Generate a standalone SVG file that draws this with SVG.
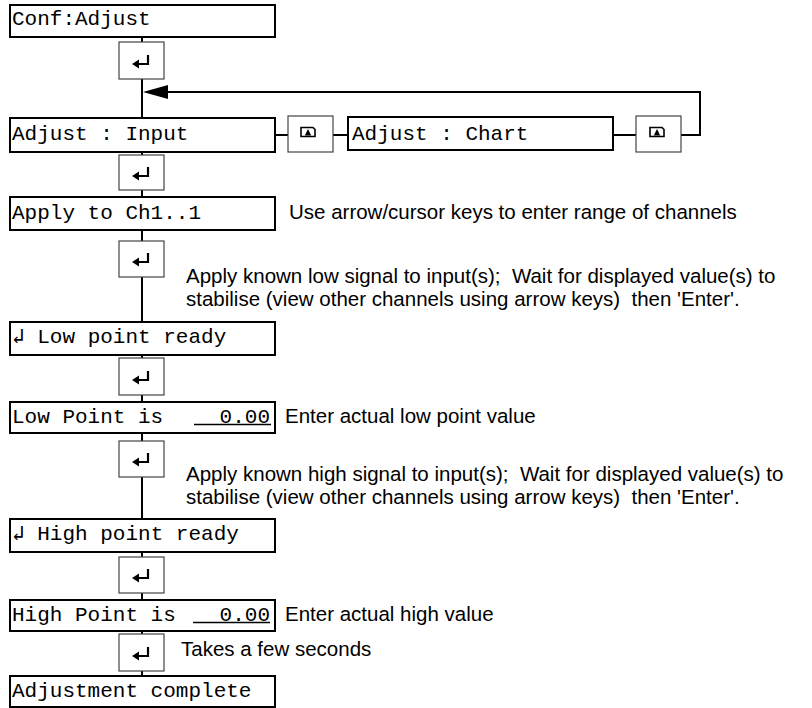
<svg xmlns="http://www.w3.org/2000/svg" width="812" height="708" viewBox="0 0 812 708">
<defs>
<style>
text{white-space:pre}
.box{fill:#fff;stroke:#000;stroke-width:2}
.key{fill:#fff;stroke:#444;stroke-width:1.2}
.mono{font-family:"Liberation Mono","DejaVu Sans Mono",monospace;font-size:21px;fill:#000}
.note{font-family:"Liberation Sans",Arial,sans-serif;font-size:20.5px;fill:#000}
.ln{stroke:#000;stroke-width:2;fill:none}
.ul{stroke:#000;stroke-width:1.3}
</style>
<g id="enterIcon">
<path d="M0,-6 V3 H-10" fill="none" stroke="#000" stroke-width="2.2"/>
<polygon points="-16,3 -9,-1.5 -9,7.5" fill="#000"/>
</g>
<g id="upIcon">
<path d="M-7,-4.5 H5 L7,-2.5 V4.5 H-7 Z" fill="#fff" stroke="#000" stroke-width="1.6"/>
<polygon points="-3.2,3.5 0,-3 3.2,3.5" fill="#000"/>
</g>
</defs>
<rect width="812" height="708" fill="#fff"/>
<g id="connectors">
<line class="ln" x1="142" y1="37" x2="142" y2="676"/>
<line class="ln" x1="275" y1="135" x2="288" y2="135"/>
<line class="ln" x1="333" y1="135" x2="348" y2="135"/>
<line class="ln" x1="613" y1="135" x2="636" y2="135"/>
<polyline class="ln" points="681,135 700,135 700,92 166,92"/>
<polygon points="143,92 168,85 168,99" fill="#000"/>
</g>
<g id="n-conf"><rect class="box" x="10" y="5" width="265" height="32"/><text class="mono" x="12" y="25">Conf:Adjust</text></g>
<g id="k-enter1"><rect class="key" x="119" y="42" width="45" height="37"/><use href="#enterIcon" x="148" y="61"/></g>
<g id="n-input"><rect class="box" x="10" y="118" width="265" height="34"/><text class="mono" x="12" y="140">Adjust : Input</text></g>
<g id="k-up1"><rect class="key" x="288" y="116" width="45" height="36"/><use href="#upIcon" x="308" y="132"/></g>
<g id="n-chart"><rect class="box" x="348" y="117" width="265" height="33"/><text class="mono" x="352" y="140">Adjust : Chart</text></g>
<g id="k-up2"><rect class="key" x="636" y="116" width="45" height="36"/><use href="#upIcon" x="657" y="132"/></g>
<g id="k-enter2"><rect class="key" x="119" y="155" width="45" height="35"/><use href="#enterIcon" x="148" y="173"/></g>
<g id="n-apply"><rect class="box" x="10" y="197" width="265" height="33"/><text class="mono" x="12" y="219">Apply to Ch1..1</text></g>
<text class="note" x="289" y="219">Use arrow/cursor keys to enter range of channels</text>
<g id="k-enter3"><rect class="key" x="119" y="241" width="45" height="36"/><use href="#enterIcon" x="148" y="259"/></g>
<text class="note" x="186" y="283">Apply known low signal to input(s);  Wait for displayed value(s) to</text>
<text class="note" x="186" y="306">stabilise (view other channels using arrow keys)  then 'Enter'.</text>
<g id="n-lowready"><rect class="box" x="10" y="322" width="265" height="33"/><text class="mono" x="12" y="343">↲ Low point ready</text></g>
<g id="k-enter4"><rect class="key" x="119" y="358" width="45" height="37"/><use href="#enterIcon" x="148" y="377"/></g>
<g id="n-lowpoint"><rect class="box" x="10" y="402" width="265" height="31"/><text class="mono" x="12" y="423">Low Point is</text><text class="mono" x="270" y="423" text-anchor="end">0.00</text><line class="ul" x1="194" y1="424.5" x2="271" y2="424.5"/></g>
<text class="note" x="285" y="423">Enter actual low point value</text>
<g id="k-enter5"><rect class="key" x="119" y="441" width="45" height="36"/><use href="#enterIcon" x="148" y="459"/></g>
<text class="note" x="186" y="481">Apply known high signal to input(s);  Wait for displayed value(s) to</text>
<text class="note" x="186" y="504">stabilise (view other channels using arrow keys)  then 'Enter'.</text>
<g id="n-highready"><rect class="box" x="10" y="519" width="265" height="33"/><text class="mono" x="12" y="540">↲ High point ready</text></g>
<g id="k-enter6"><rect class="key" x="119" y="557" width="45" height="36"/><use href="#enterIcon" x="148" y="575"/></g>
<g id="n-highpoint"><rect class="box" x="10" y="600" width="265" height="31"/><text class="mono" x="12" y="621">High Point is</text><text class="mono" x="270" y="621" text-anchor="end">0.00</text><line class="ul" x1="193" y1="622.5" x2="270" y2="622.5"/></g>
<text class="note" x="285" y="621">Enter actual high value</text>
<g id="k-enter7"><rect class="key" x="119" y="634" width="45" height="37"/><use href="#enterIcon" x="148" y="653"/></g>
<text class="note" x="181" y="656">Takes a few seconds</text>
<g id="n-complete"><rect class="box" x="10" y="676" width="265" height="31"/><text class="mono" x="12" y="697">Adjustment complete</text></g>
</svg>
